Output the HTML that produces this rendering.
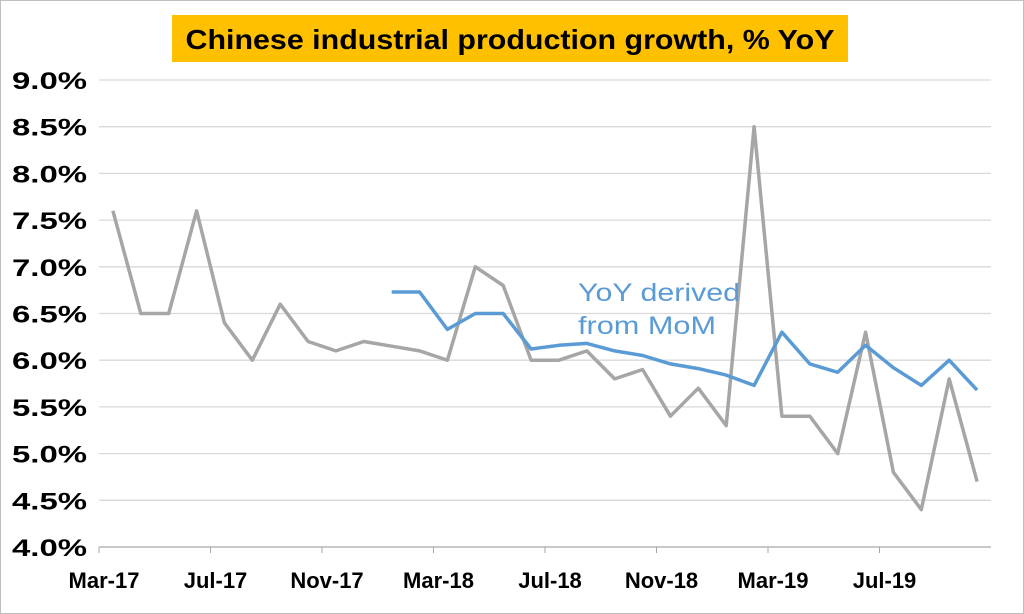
<!DOCTYPE html>
<html><head><meta charset="utf-8"><style>
body{margin:0;background:#fff;}
svg{display:block;font-family:"Liberation Sans",Arial,sans-serif;}
</style></head><body>
<svg width="1024" height="614" viewBox="0 0 1024 614">
<rect x="0.5" y="0.5" width="1023" height="613" fill="#fff" stroke="#bfbfbf"/>
<rect x="172" y="15" width="676" height="47" fill="#FFC000"/>
<text x="510" y="49" text-anchor="middle" font-size="28" font-weight="bold" fill="#000" textLength="649" lengthAdjust="spacingAndGlyphs">Chinese industrial production growth, % YoY</text>
<g id="grid"></g><g id="yticks"></g><g id="xticks"></g><g id="series"></g>
<text x="578" y="301" font-size="25" fill="#5B9BD5" textLength="162" lengthAdjust="spacingAndGlyphs">YoY derived</text>
<text x="578" y="334" font-size="25" fill="#5B9BD5" textLength="138" lengthAdjust="spacingAndGlyphs">from MoM</text>
</svg>
<script>
const months = ["Mar-17","Apr-17","May-17","Jun-17","Jul-17","Aug-17","Sep-17","Oct-17","Nov-17","Dec-17","Jan-18","Feb-18","Mar-18","Apr-18","May-18","Jun-18","Jul-18","Aug-18","Sep-18","Oct-18","Nov-18","Dec-18","Jan-19","Feb-19","Mar-19","Apr-19","May-19","Jun-19","Jul-19","Aug-19","Sep-19","Oct-19"];
const officialYoY = [7.6,6.5,6.5,7.6,6.4,6.0,6.6,6.2,6.1,6.2,6.15,6.1,6.0,7.0,6.8,6.0,6.0,6.1,5.8,5.9,5.4,5.7,5.3,8.5,5.4,5.4,5.0,6.3,4.8,4.4,5.8,4.7];
const derivedYoY = [null,null,null,null,null,null,null,null,null,null,6.73,6.73,6.33,6.5,6.5,6.12,6.16,6.18,6.1,6.05,5.96,5.91,5.84,5.73,6.3,5.96,5.87,6.16,5.92,5.73,6.0,5.68];
const yTicks = [4.0,4.5,5.0,5.5,6.0,6.5,7.0,7.5,8.0,8.5,9.0];
const xLabelEvery = 4;
</script>
<script>
const NS="http://www.w3.org/2000/svg";
const L=99,R=991,T=80,B=547,ymin=4,ymax=9;
const bw=(R-L)/months.length;
const xs=i=>L+bw*(i+0.5);
const ys=v=>B-(v-ymin)/(ymax-ymin)*(B-T);
function mk(tag,attrs,parent){const e=document.createElementNS(NS,tag);for(const k in attrs)e.setAttribute(k,attrs[k]);document.getElementById(parent).appendChild(e);return e;}
yTicks.forEach(v=>{
  const g=mk("line",{x1:L,x2:R,y1:ys(v),y2:ys(v),stroke:v===ymin?"#a6a6a6":"#d9d9d9","stroke-width":1.3},"grid");
  
  
  const t=mk("text",{x:87,y:ys(v)+9,"text-anchor":"end","font-size":24,"font-weight":"bold",fill:"#000",textLength:75,lengthAdjust:"spacingAndGlyphs"},"yticks");
  t.textContent=v.toFixed(1)+"%";
  
  
});
months.forEach((m,i)=>{
  if(i%xLabelEvery===0){
    const x=L+bw*i;
    const tk=mk("line",{x1:x,x2:x,y1:B,y2:B+6,stroke:"#a6a6a6"},"xticks");
    
    
    const t=mk("text",{x:x+5,y:B+41,"text-anchor":"middle","font-size":22,"font-weight":"bold",fill:"#000"},"xticks");
    t.textContent=m;
    
    
  }
});
function path(arr){let d="",pen=false;arr.forEach((v,i)=>{if(v==null){pen=false;return;}d+=(pen?"L":"M")+xs(i).toFixed(1)+","+ys(v).toFixed(1);pen=true;});return d;}
const p1=mk("path",{d:path(officialYoY),fill:"none",stroke:"#a6a6a6","stroke-width":3.5,"stroke-linejoin":"round"},"series");


const p2=mk("path",{d:path(derivedYoY),fill:"none",stroke:"#5B9BD5","stroke-width":3.5,"stroke-linejoin":"round"},"series");


</script>
</body></html>
